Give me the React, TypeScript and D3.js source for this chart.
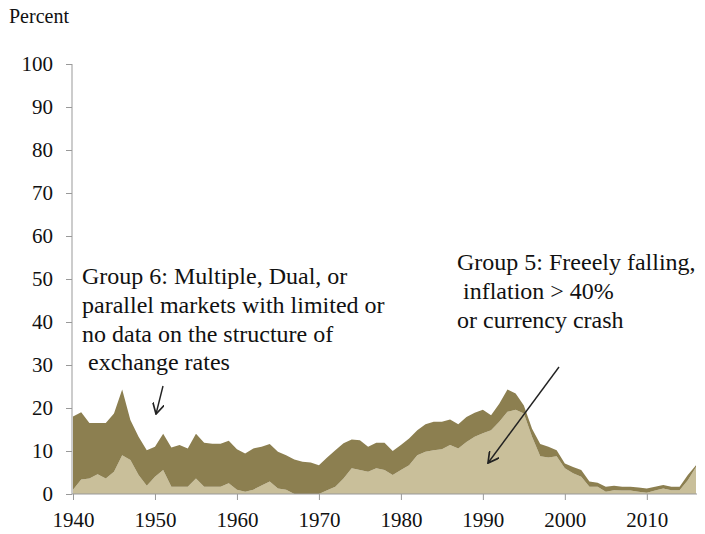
import React, { useRef, useEffect } from "react";
import * as d3 from "d3";

const years = d3.range(1940, 2017);

// Group 5: freely falling (bottom layer)
const group5 = [
  1, 3.4, 3.6, 4.6, 3.6, 5.2, 9, 7.9, 4.4, 1.9,
  4, 5.6, 1.7, 1.7, 1.7, 3.6, 1.7, 1.7, 1.7, 2.5,
  1, 0.5, 1, 2, 2.9, 1.3, 1, 0, 0, 0,
  0, 0.9, 1.7, 3.6, 6, 5.6, 5.2, 6, 5.6, 4.4,
  5.6, 6.7, 9, 9.8, 10.2, 10.4, 11.4, 10.6, 12.1, 13.3,
  14.1, 14.8, 16.8, 19.1, 19.6, 18.7, 13.3, 8.8, 8.5, 8.8,
  6, 4.8, 4, 1.7, 1.7, 0.5, 0.9, 0.8, 0.8, 0.5,
  0.3, 0.8, 1.3, 0.9, 0.9, 3.2, 6.3,
];

// Total of groups 5 + 6 (top edge)
const total = [
  18, 19, 16.5, 16.5, 16.5, 18.7, 24.3, 17.2, 13.3, 10.2,
  11, 14, 10.8, 11.4, 10.6, 14, 11.9, 11.7, 11.7, 12.4,
  10.4, 9.4, 10.6, 11, 11.6, 9.8, 9, 8, 7.5, 7.3,
  6.7, 8.5, 10.2, 11.8, 12.7, 12.5, 11, 11.9, 11.9, 10,
  11.4, 12.9, 14.8, 16.2, 16.8, 16.8, 17.3, 16.2, 17.9, 18.9,
  19.6, 18.3, 21, 24.3, 23.4, 20.6, 15.2, 11.6, 11, 10.2,
  7.1, 6.3, 5.6, 2.9, 2.6, 1.7, 1.9, 1.7, 1.7, 1.5,
  1.3, 1.7, 2.1, 1.7, 1.7, 4.4, 6.7,
];

const group6 = total.map((t, i) => Math.max(0, +(t - group5[i]).toFixed(1)));

const yTicks = d3.range(0, 101, 10);
const xTicks = [1940, 1950, 1960, 1970, 1980, 1990, 2000, 2010];

const group6Lines = [
  "Group 6: Multiple, Dual, or",
  "parallel markets with limited or",
  "no data on the structure of",
  "\u00a0exchange rates",
];
const group5Lines = [
  "Group 5: Freeely falling,",
  "\u00a0inflation > 40%",
  "or currency crash",
];

const W = 705;
const H = 534;
const FONT = "Liberation Serif, DejaVu Serif, serif";

export default function App() {
  const svgRef = useRef<SVGSVGElement>(null);

  useEffect(() => {
    if (!svgRef.current) return;
    const svg = d3.select(svgRef.current);
    svg.selectAll("*").remove();

    const x = d3.scaleLinear().domain([1940, 2016]).range([73, 696]);
    const y = d3.scaleLinear().domain([0, 100]).range([494, 64]);

    const rows = years.map((yr, i) => ({ year: yr, g5: group5[i], g6: group6[i] }));
    const stack = d3.stack<any>().keys(["g5", "g6"]);
    const layers = stack(rows);
    const colors = ["#c9bf9a", "#8c7f50"];

    const area = d3.area<any>()
      .x(d => x(d.data.year))
      .y0(d => y(d[0]))
      .y1(d => y(d[1]));

    svg.selectAll(".layer")
      .data(layers)
      .enter()
      .append("path")
      .attr("class", "layer")
      .attr("fill", (_, i) => colors[i])
      .attr("d", area as any);

    // y axis
    const yAxis = svg.append("g").attr("transform", `translate(72,0)`)
      .call(d3.axisLeft(y).tickValues(yTicks).tickSize(6).tickPadding(13));
    yAxis.select(".domain").attr("stroke", "#999").attr("d", "M0,64V494");
    yAxis.selectAll(".tick line").attr("stroke", "#999");
    yAxis.selectAll(".tick text")
      .style("font-family", FONT).style("font-size", "21px").attr("fill", "#111");

    // x axis
    const xAxis = svg.append("g").attr("transform", `translate(0,494)`)
      .call(d3.axisBottom(x).tickValues(xTicks).tickFormat(d3.format("d")).tickSize(6).tickPadding(12));
    xAxis.select(".domain").attr("stroke", "#999").attr("d", "M72,0H697");
    xAxis.selectAll(".tick line").attr("stroke", "#999");
    xAxis.selectAll(".tick text")
      .style("font-family", FONT).style("font-size", "21px").attr("fill", "#111");

    svg.append("text")
      .attr("x", 9).attr("y", 23)
      .style("font-family", FONT).style("font-size", "20px").attr("fill", "#111")
      .text("Percent");

    const drawLines = (lines: string[], x0: number, y0: number) => {
      const t = svg.append("text")
        .style("font-family", FONT).style("font-size", "24px").attr("fill", "#111");
      lines.forEach((l, i) => {
        t.append("tspan").attr("x", x0).attr("y", y0 + i * 28.8).text(l);
      });
    };
    drawLines(group6Lines, 82, 284);
    drawLines(group5Lines, 457, 270);

    // arrows
    const defs = svg.append("defs");
    defs.append("marker")
      .attr("id", "arr").attr("viewBox", "0 0 10 10")
      .attr("refX", 9).attr("refY", 5)
      .attr("markerWidth", 12).attr("markerHeight", 12)
      .attr("orient", "auto").attr("markerUnits", "userSpaceOnUse")
      .append("path").attr("d", "M0,0L9,5L0,10").attr("fill", "none")
      .attr("stroke", "#222").attr("stroke-width", 1.4);

    const arrows = [
      [163, 386, 156, 414],
      [559, 367, 488, 463],
    ];
    svg.selectAll(".arrow")
      .data(arrows)
      .enter()
      .append("line")
      .attr("class", "arrow")
      .attr("x1", d => d[0]).attr("y1", d => d[1])
      .attr("x2", d => d[2]).attr("y2", d => d[3])
      .attr("stroke", "#222").attr("stroke-width", 1.4)
      .attr("marker-end", "url(#arr)");
  }, []);

  return (
    <svg
      ref={svgRef}
      width={W}
      height={H}
      style={{ position: "absolute", left: 0, top: 0, background: "#fff" }}
    />
  );
}
